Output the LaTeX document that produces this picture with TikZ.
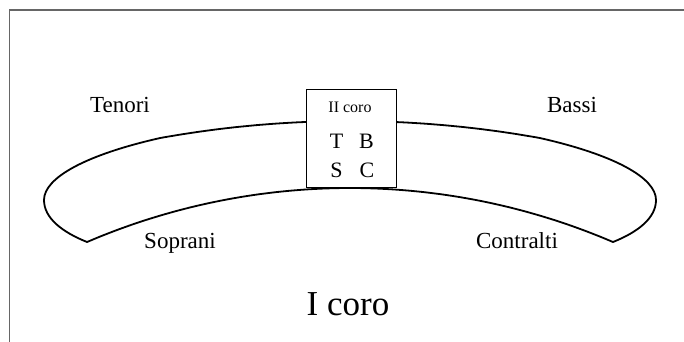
\documentclass[tikz,border=0pt]{standalone}
\usepackage{fontspec}
\setmainfont{Liberation Serif}
\begin{document}
\begin{tikzpicture}[x=1pt,y=-1pt,
  band/.style={line width=1.8pt, line join=round},
  boxst/.style={draw, line width=1pt, fill=white, minimum width=90pt, minimum height=97pt, inner sep=0pt},
  frameline/.style={line width=1.5pt, draw=black!60},
  lab/.style={anchor=base, inner sep=0pt, font=\fontsize{23}{26}\selectfont},
  big/.style={anchor=base, inner sep=0pt, font=\fontsize{35}{40}\selectfont},
  small/.style={anchor=base, inner sep=0pt, font=\fontsize{16}{18}\selectfont},
  voice/.style={anchor=base, inner sep=0pt, font=\fontsize{22}{24}\selectfont}]
\useasboundingbox (0,0) rectangle (684,342);
% frame lines
\coordinate (fa) at (684,10);
\coordinate (fb) at (9.5,10);
\coordinate (fc) at (9.5,342);
\draw[frameline] (fa) -- (fb) -- (fc);
% band
\draw[band]
  plot[domain=-10.23:10.23, samples=60, smooth] ({350+1070*sin(\x)},{1191-1070*cos(\x)})
  .. controls (615,155) and (656,178) .. (656,200)
  .. controls (656,218) and (638,232) .. (613,242)
  -- plot[domain=23.2:-23.2, samples=80, smooth] ({350+667.5*sin(\x)},{855.5-667.5*cos(\x)})
  .. controls (62,232) and (44,218) .. (44,200)
  .. controls (44,178) and (85,155) .. cycle;
% box
\node[boxst] (box) at (351,138.5) {};
\node[small] (ii) at (350,112) {II coro};
\node[voice] (t) at (336.5,148) {T};
\node[voice] (b) at (366.5,148) {B};
\node[voice] (s) at (336.5,177) {S};
\node[voice] (c) at (367,177) {C};
% labels
\node[lab] (ten) at (120,113) {Tenori};
\node[lab] (bas) at (572,113) {Bassi};
\node[lab] (sop) at (180,248) {Soprani};
\node[lab] (con) at (517,248) {Contralti};
\node[big] (i) at (348,315) {I coro};
\end{tikzpicture}
\end{document}
